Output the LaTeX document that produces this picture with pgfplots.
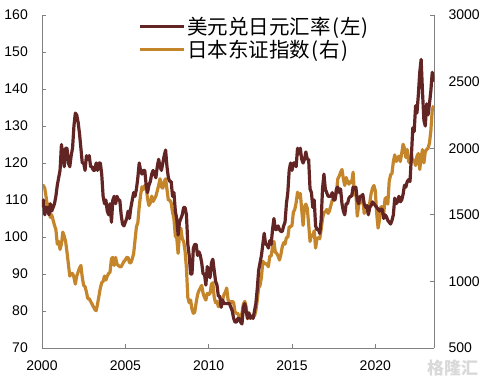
\documentclass[border=0pt]{standalone}
\usepackage{fontspec}
\setmainfont{Liberation Sans}
\newfontfamily\cjk{Noto Sans CJK SC}
\usepackage{pgfplots}
\usepackage{pgfplotstable}
\pgfplotsset{compat=1.18}
\definecolor{usd}{HTML}{632523}
\definecolor{tpx}{HTML}{C5862B}
\definecolor{axgray}{HTML}{808080}

\pgfplotstableread{
t u p
2000.000 108 1710
2000.083 110 1720
2000.167 106 1700
2000.250 108 1630
2000.333 108 1560
2000.417 106 1580
2000.500 109 1480
2000.583 107 1500
2000.667 108 1460
2000.750 109 1420
2000.833 111 1390
2000.917 114 1280
2001.000 116 1300
2001.083 118 1240
2001.167 125 1280
2001.250 122 1370
2001.333 119 1340
2001.417 124 1300
2001.500 124 1220
2001.583 120 1130
2001.667 119 1040
2001.750 122 1060
2001.833 124 1060
2001.917 130 1030
2002.000 133.5 980
2002.083 133 1040
2002.167 131 1070
2002.250 128 1100
2002.333 124 1120
2002.417 120 1030
2002.500 120 970
2002.583 118 960
2002.667 122 920
2002.750 121 870
2002.833 122 870
2002.917 119 850
2003.000 119 830
2003.083 118 810
2003.167 118 790
2003.250 120 780
2003.333 118 830
2003.417 120 890
2003.500 120 950
2003.583 117 990
2003.667 111 1000
2003.750 109 1040
2003.833 110 1010
2003.917 107 1040
2004.000 106 1060
2004.083 109 1070
2004.167 104 1170
2004.250 110 1180
2004.333 111 1120
2004.417 109 1180
2004.500 111 1130
2004.583 110 1120
2004.667 110 1110
2004.750 106 1110
2004.833 103.5 1130
2004.917 103 1150
2005.000 104 1160
2005.083 105 1180
2005.167 107 1180
2005.250 105 1140
2005.333 108 1140
2005.417 110 1170
2005.500 112 1210
2005.583 111 1310
2005.667 113 1410
2005.750 116 1440
2005.833 120 1560
2005.917 118 1650
2006.000 117 1710
2006.083 118 1690
2006.167 118 1720
2006.250 114 1710
2006.333 112 1620
2006.417 114 1570
2006.500 115 1590
2006.583 117 1640
2006.667 118 1600
2006.750 117 1620
2006.833 116 1640
2006.917 119 1680
2007.000 121 1720
2007.083 119 1770
2007.167 118 1710
2007.250 120 1700
2007.333 122 1750
2007.417 123.5 1770
2007.500 119 1690
2007.583 116 1610
2007.667 115 1610
2007.750 115 1590
2007.833 111 1520
2007.917 112 1470
2008.000 107 1340
2008.083 105 1330
2008.167 100.5 1210
2008.250 104 1350
2008.333 105 1400
2008.417 106 1320
2008.500 108 1300
2008.583 108 1230
2008.667 106 1100
2008.750 98 880
2008.833 95 840
2008.917 90 860
2009.000 90 790
2009.083 97 760
2009.167 98 770
2009.250 98 840
2009.333 95 900
2009.417 96 930
2009.500 95 950
2009.583 93 970
2009.667 90 910
2009.750 90 880
2009.833 87 860
2009.917 92 910
2010.000 90 900
2010.083 89 910
2010.167 93 980
2010.250 94 990
2010.333 91 880
2010.417 88 840
2010.500 87 850
2010.583 84 810
2010.667 84 830
2010.750 81 810
2010.833 83 860
2010.917 82 900
2011.000 82 920
2011.083 82 950
2011.167 82 860
2011.250 82 850
2011.333 81 840
2011.417 80 850
2011.500 78 840
2011.583 77 770
2011.667 77 760
2011.750 78 760
2011.833 78 730
2011.917 77 730
2012.000 76.5 760
2012.083 81 830
2012.167 82 850
2012.250 80 810
2012.333 78 720
2012.417 79.5 760
2012.500 78 740
2012.583 78.5 740
2012.667 78 740
2012.750 80 740
2012.833 82 780
2012.917 86 860
2013.000 91 950
2013.083 93 970
2013.167 95 1030
2013.250 98 1150
2013.333 101 1140
2013.417 98 1130
2013.500 98 1130
2013.583 97 1110
2013.667 99 1190
2013.750 98 1190
2013.833 102 1260
2013.917 105 1300
2014.000 102 1220
2014.083 102 1210
2014.167 103 1190
2014.250 102 1160
2014.333 101.5 1200
2014.417 101.5 1260
2014.500 103 1290
2014.583 104 1280
2014.667 109 1330
2014.750 112 1330
2014.833 118 1410
2014.917 120 1410
2015.000 118 1420
2015.083 120 1520
2015.167 120 1540
2015.250 119 1590
2015.333 124 1670
2015.417 122.5 1630
2015.500 124 1660
2015.583 121 1540
2015.667 120 1420
2015.750 121 1560
2015.833 123 1580
2015.917 121 1550
2016.000 121 1430
2016.083 113 1300
2016.167 112 1350
2016.250 108 1340
2016.333 110 1380
2016.417 103 1250
2016.500 102 1320
2016.583 102 1330
2016.667 101 1320
2016.750 104.5 1390
2016.833 113 1470
2016.917 117 1520
2017.000 113 1520
2017.083 112 1540
2017.167 111 1510
2017.250 111 1530
2017.333 111 1570
2017.417 112 1610
2017.500 110 1620
2017.583 110 1620
2017.667 113 1670
2017.750 113.5 1770
2017.833 112 1790
2017.917 113 1820
2018.000 109 1840
2018.083 107 1770
2018.167 106 1720
2018.250 109 1780
2018.333 109 1750
2018.417 110.5 1730
2018.500 111 1750
2018.583 111 1740
2018.667 113.5 1820
2018.750 113 1650
2018.833 113.5 1670
2018.917 110 1490
2019.000 109 1570
2019.083 111 1610
2019.167 111 1590
2019.250 111.5 1620
2019.333 109 1510
2019.417 108 1550
2019.500 108.5 1560
2019.583 106 1510
2019.667 108 1590
2019.750 108.5 1660
2019.833 109.5 1700
2019.917 109 1720
2020.000 108.5 1680
2020.083 108 1510
2020.167 107.5 1400
2020.250 107 1460
2020.333 107.5 1560
2020.417 107.5 1560
2020.500 105 1500
2020.583 106 1620
2020.667 105.5 1630
2020.750 104.5 1580
2020.833 104 1750
2020.917 103.5 1800
2021.000 104.5 1810
2021.083 106 1900
2021.167 110.5 1950
2021.250 109 1900
2021.333 109.5 1920
2021.417 111 1940
2021.500 109.5 1900
2021.583 110 1960
2021.667 111.5 2030
2021.750 114 2000
2021.833 113.5 1930
2021.917 115 1990
2022.000 115.5 1900
2022.083 115 1890
2022.167 122 1950
2022.250 129.5 1900
2022.333 128.5 1910
2022.417 135.5 1870
2022.500 133.5 1940
2022.583 138.5 1960
2022.667 144.5 1840
2022.750 148 1930
2022.833 139 1990
2022.917 131.5 1890
2023.000 130 1975
2023.083 136 1990
2023.167 133 2000
2023.250 136 2040
2023.333 139.5 2130
2023.417 144.5 2290
2023.500 142 2320
}\data

\begin{document}
\begin{tikzpicture}
\pgfplotsset{
  common/.style={
    scale only axis, width=392.3pt, height=333pt,
    xmin=2000, xmax=2023.54,
    tick align=inside, major tick length=4pt,
    tick style={axgray, line width=0.8pt},
    axis line style={axgray, line width=0.8pt},
    every outer x axis line/.append style={-},
    every outer y axis line/.append style={-},
    /pgf/number format/assume math mode=true,
    /pgf/number format/1000 sep={},
    ticklabel style={font=\fontsize{14}{16}\selectfont},
  }
}
\begin{axis}[common, name=r,
  axis y line*=right, hide x axis,
  ymin=500, ymax=3000, ytick={500,1000,...,3000},
  yticklabel style={anchor=west, inner sep=0pt, xshift=14pt},
]
\addplot[tpx, line width=3.2pt, line join=round] table[x=t,y=p]{\data};
\end{axis}
\begin{axis}[common, name=l,
  axis y line*=left, axis x line*=bottom,
  ymin=70, ymax=160, ytick={70,80,...,160},
  xtick={2000,2005,...,2020},
  yticklabel style={anchor=east, inner sep=0pt, xshift=-14pt},
  xticklabel style={anchor=north, inner sep=0pt, yshift=-13pt},
  legend style={draw=none, fill=none, at={(0.2447,1.0)}, anchor=north west,
    inner sep=0pt, font=\cjk\fontsize{20.5}{24}\selectfont, row sep=0pt},
  legend cell align=left,
  legend image code/.code={\draw[#1, line width=3pt] (0pt,0pt) -- (44pt,0pt);},
]
\addplot[usd, line width=3.2pt, line join=round] table[x=t,y=u]{\data};
\addlegendentry{美元兑日元汇率\kern1.5pt(\kern1pt左\kern1pt)}
\addlegendimage{tpx, line width=3.2pt}
\addlegendentry{日本东证指数\kern1.5pt(\kern1pt右\kern1pt)}
\end{axis}
\node[anchor=south east, inner sep=0pt, text=black!15, font=\cjk\bfseries\fontsize{17}{17}\selectfont] at ([shift={(44pt,-28pt)}]l.south east) {格隆汇};
\pgfresetboundingbox
\path[use as bounding box] ([shift={(-42pt,-30pt)}]l.south west) rectangle ([shift={(49.7pt,15pt)}]l.north east);
\end{tikzpicture}
\end{document}
